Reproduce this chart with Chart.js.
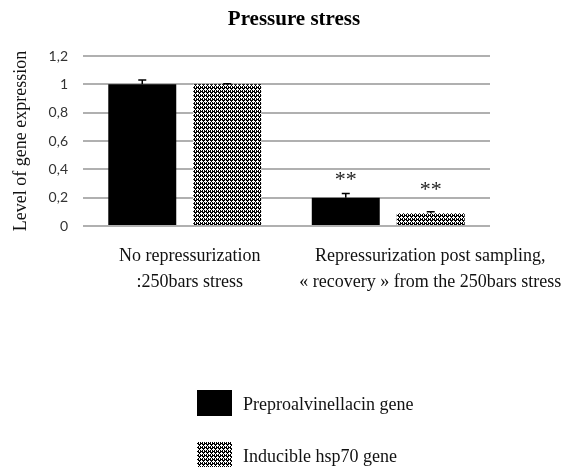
<!DOCTYPE html>
<html>
<head>
<meta charset="utf-8">
<script src="https://cdn.jsdelivr.net/npm/chart.js@4.4.1/dist/chart.umd.min.js"></script>
<style>
  html, body { margin: 0; padding: 0; background: #fff; }
  #wrap { width: 566px; height: 467px; }
</style>
</head>
<body>
<div id="wrap"><canvas id="chart"></canvas></div>
<script>
// data
const categories = [
    ['No repressurization', ':250bars stress'],
    ['Repressurization post sampling,', '\u00ab recovery \u00bb from the 250bars stress'],
];
const seriesNames = ['Preproalvinellacin gene', 'Inducible hsp70 gene'];
const preproValues = [1.0, 0.2];
const preproErrors = [0.03, 0.03];
const hspValues = [1.0, 0.09];
const hspErrors = [0.005, 0.01];
const preproStars = [null, 0.35];   // level of the "**" mark
const hspStars = [null, 0.28];
const yTickLabels = ['0', '0,2', '0,4', '0,6', '0,8', '1', '1,2'];

const SERIF = '"Liberation Serif", "Times New Roman", serif';
const labelShift = [5, 42];

// dotted fill like the excel pattern
const makeHatch = () => {
    const tile = document.createElement('canvas');
    tile.width = 4;
    tile.height = 4;
    const t = tile.getContext('2d');
    t.fillStyle = '#000';
    t.fillRect(0, 0, 4, 4);
    t.fillStyle = '#fff';
    [[1, 0], [0, 1], [1, 1], [2, 1], [1, 2], [3, 3], [3, 2]].forEach(([x, y]) => t.fillRect(x, y, 1, 1));
    return t.createPattern(tile, 'repeat');
};
const hatch = makeHatch();

const errors = [preproErrors, hspErrors];
const stars = [preproStars, hspStars];

const extras = {
    id: 'extras',
    afterDatasetsDraw(chart) {
        const { ctx } = chart;
        const y = chart.scales.y;
        ctx.save();
        chart.data.datasets.forEach((ds, di) => {
            const meta = chart.getDatasetMeta(di);
            meta.data.forEach((bar, i) => {
                const top = y.getPixelForValue(ds.data[i]);
                const hi = y.getPixelForValue(ds.data[i] + errors[di][i]);
                ctx.strokeStyle = '#000';
                ctx.lineWidth = 1.5;
                ctx.beginPath();
                ctx.moveTo(bar.x, top);
                ctx.lineTo(bar.x, hi);
                ctx.moveTo(bar.x - 4, hi);
                ctx.lineTo(bar.x + 4, hi);
                ctx.stroke();
                if (stars[di][i] != null) {
                    ctx.fillStyle = '#222';
                    ctx.font = '22px ' + SERIF;
                    ctx.textAlign = 'center';
                    ctx.textBaseline = 'alphabetic';
                    ctx.fillText('**', bar.x, y.getPixelForValue(stars[di][i]) + 10);
                }
            });
        });
        ctx.restore();
    },
    afterDraw(chart) {
        const { ctx, chartArea } = chart;
        const x = chart.scales.x;
        ctx.save();
        ctx.fillStyle = '#111';
        ctx.font = '18px ' + SERIF;
        ctx.textAlign = 'center';
        ctx.textBaseline = 'middle';
        categories.forEach((lines, i) => {
            const cx = x.getPixelForValue(i) + labelShift[i];
            lines.forEach((line, li) => {
                ctx.fillText(line, cx, chartArea.bottom + 30 + li * 26);
            });
        });

        // legend, stacked under the plot
        const lx = chartArea.left + 114;
        chart.data.datasets.forEach((ds, di) => {
            const by = chartArea.bottom + 164 + di * 52;
            ctx.fillStyle = ds.backgroundColor;
            ctx.fillRect(lx, by, 35, 26);
            ctx.fillStyle = '#111';
            ctx.textAlign = 'left';
            ctx.fillText(ds.label, lx + 46, by + 15);
        });
        ctx.restore();
    },
};

new Chart(document.getElementById('chart'), {
    type: 'bar',
    data: {
        labels: categories,
        datasets: [
            { label: seriesNames[0], data: preproValues, backgroundColor: '#000', borderWidth: 0 },
            { label: seriesNames[1], data: hspValues, backgroundColor: hatch, borderWidth: 0 },
        ],
    },
    options: {
        responsive: true,
        maintainAspectRatio: false,
        animation: false,
        categoryPercentage: 0.835,
        barPercentage: 0.8,
        layout: { padding: { left: 22, right: 0, top: 0, bottom: 241 } },
        plugins: {
            legend: { display: false },
            tooltip: { enabled: false },
            title: {
                display: true,
                text: 'Pressure stress',
                color: '#000',
                font: { family: SERIF, size: 21, weight: 'bold' },
                padding: { top: 7.4, bottom: 23.4 },
            },
        },
        scales: {
            x: { display: false },
            y: {
                min: 0,
                max: 1.2,
                ticks: {
                    stepSize: 0.2,
                    color: '#333',
                    padding: 15,
                    font: { family: 'Lato', size: 14 },
                    callback: (v, i) => yTickLabels[i],
                },
                grid: { color: '#b0b0b0', lineWidth: 2, drawTicks: false },
                border: { display: false },
                title: {
                    display: true,
                    text: 'Level of gene expression',
                    color: '#111',
                    font: { family: SERIF, size: 18 },
                    padding: { top: -11.8, bottom: 0 },
                },
                afterFit: (s) => { s.width = 61; },
            },
            yRight: {
                position: 'right',
                display: true,
                ticks: { display: false },
                grid: { display: false },
                border: { display: false },
                afterFit: (s) => { s.width = 76; },
            },
        },
    },
    plugins: [extras],
});
</script>
</body>
</html>
